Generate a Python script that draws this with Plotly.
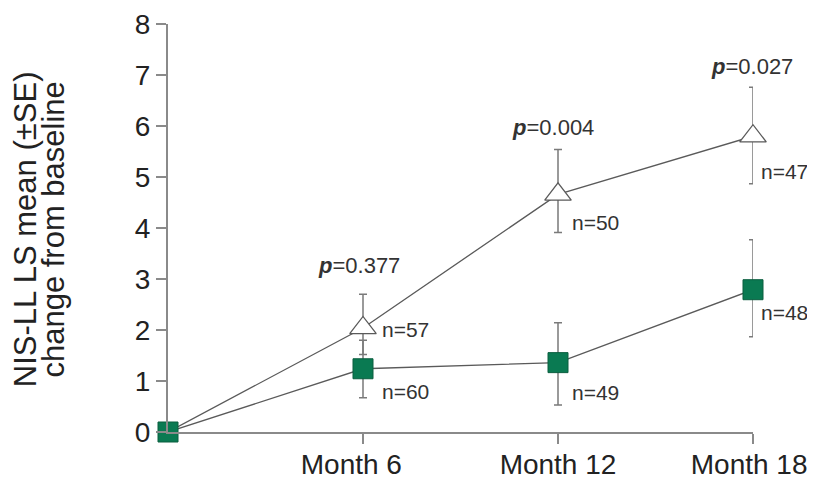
import plotly.graph_objects as go

# ---- data ----
months = [0, 6, 12, 18]
month_ticks = [6, 12, 18]
month_labels = ["Month 6\u00a0\u00a0\u00a0", "Month 12", "Month 18\u00a0"]

tri_mean = [0.0, 2.04, 4.66, 5.80]
tri_upper = [0.0, 2.70, 5.54, 6.76]
tri_lower = [0.0, 1.52, 3.91, 4.87]
tri_n = ["", "n=57", "n=50", "n=47"]

sq_mean = [0.0, 1.24, 1.36, 2.79]
sq_upper = [0.0, 1.80, 2.14, 3.77]
sq_lower = [0.0, 0.67, 0.53, 1.87]
sq_n = ["", "n=60", "n=49", "n=48"]

p_values = ["0.377", "0.004", "0.027"]

# ---- styles ----
FONT = "Liberation Sans, Arial, sans-serif"
AXIS_COL = "#8a8a8a"
LINE_COL = "#5a5a5a"
ERR_COL = "#7a7a7a"
GREEN = "#0a7a52"

tri_plus = [u - m for u, m in zip(tri_upper, tri_mean)]
tri_minus = [m - l for m, l in zip(tri_mean, tri_lower)]
sq_plus = [u - m for u, m in zip(sq_upper, sq_mean)]
sq_minus = [m - l for m, l in zip(sq_mean, sq_lower)]

fig = go.Figure()

fig.add_trace(go.Scatter(
    x=months, y=tri_mean, mode="lines+markers",
    line=dict(color=LINE_COL, width=1.3),
    marker=dict(symbol="triangle-up", size=23, color="white",
                opacity=[0, 1, 1, 1],
                line=dict(color=LINE_COL, width=1.3)),
    error_y=dict(type="data", symmetric=False, array=tri_plus,
                 arrayminus=tri_minus, color=ERR_COL, thickness=1.5, width=4),
    cliponaxis=False, showlegend=False, hoverinfo="skip"))

fig.add_trace(go.Scatter(
    x=months, y=sq_mean, mode="lines+markers",
    line=dict(color=LINE_COL, width=1.3),
    marker=dict(symbol="square", size=20, color=GREEN,
                line=dict(color="#0b5e3f", width=1)),
    error_y=dict(type="data", symmetric=False, array=sq_plus,
                 arrayminus=sq_minus, color=ERR_COL, thickness=1.5, width=4),
    cliponaxis=False, showlegend=False, hoverinfo="skip"))

annotations = []
# n labels
tri_shift = [(0, 0), (17, -2), (12, -28), (6, -35)]
sq_shift = [(0, 0), (17, -23), (12, -30), (6, -23)]
for i in range(1, 4):
    annotations.append(dict(x=months[i], y=tri_mean[i], text=tri_n[i],
                            xanchor="left", yanchor="middle", showarrow=False,
                            xshift=tri_shift[i][0], yshift=tri_shift[i][1],
                            font=dict(size=21, color="#333333", family=FONT)))
    annotations.append(dict(x=months[i], y=sq_mean[i], text=sq_n[i],
                            xanchor="left", yanchor="middle", showarrow=False,
                            xshift=sq_shift[i][0], yshift=sq_shift[i][1],
                            font=dict(size=21, color="#333333", family=FONT)))
# p labels
p_shift = [(-4, 29), (-5, 22), (-1, 21)]
for j in range(3):
    i = j + 1
    annotations.append(dict(x=months[i], y=tri_upper[i],
                            text="<b><i>p</i></b>=" + p_values[j],
                            xanchor="center", yanchor="middle", showarrow=False,
                            xshift=p_shift[j][0], yshift=p_shift[j][1],
                            font=dict(size=22, color="#333333", family=FONT)))
# y-axis title (two lines)
annotations.append(dict(xref="paper", yref="paper", x=-0.2445, y=0.497,
                        text="NIS-LL LS mean (±SE)", textangle=-90,
                        showarrow=False, xanchor="center", yanchor="middle",
                        font=dict(size=31, color="#222222", family=FONT)))
annotations.append(dict(xref="paper", yref="paper", x=-0.196, y=0.497,
                        text="change from baseline", textangle=-90,
                        showarrow=False, xanchor="center", yanchor="middle",
                        font=dict(size=31, color="#222222", family=FONT)))

fig.update_layout(
    width=807, height=471,
    margin=dict(l=160, r=62, t=16, b=47, autoexpand=False),
    paper_bgcolor="white", plot_bgcolor="white",
    annotations=annotations,
    xaxis=dict(range=[0, 18], showgrid=False, zeroline=False, automargin=False,
               showline=True, linecolor=AXIS_COL, linewidth=2,
               ticks="outside", ticklen=10, tickwidth=1.5, tickcolor=AXIS_COL,
               tickvals=month_ticks, ticktext=month_labels,
               ticklabelstandoff=-4, ticklabeloverflow="allow",
               tickfont=dict(size=28, color="#222222", family=FONT)),
    yaxis=dict(range=[0, 8], showgrid=False, zeroline=False, automargin=False,
               showline=True, linecolor=AXIS_COL, linewidth=2,
               ticks="outside", ticklen=10, tickwidth=1.5, tickcolor=AXIS_COL,
               tickvals=list(range(0, 9)),
               tickfont=dict(size=28, color="#222222", family=FONT)),
)

fig.write_html("out.html", post_script="document.body.style.overflow='hidden';")
